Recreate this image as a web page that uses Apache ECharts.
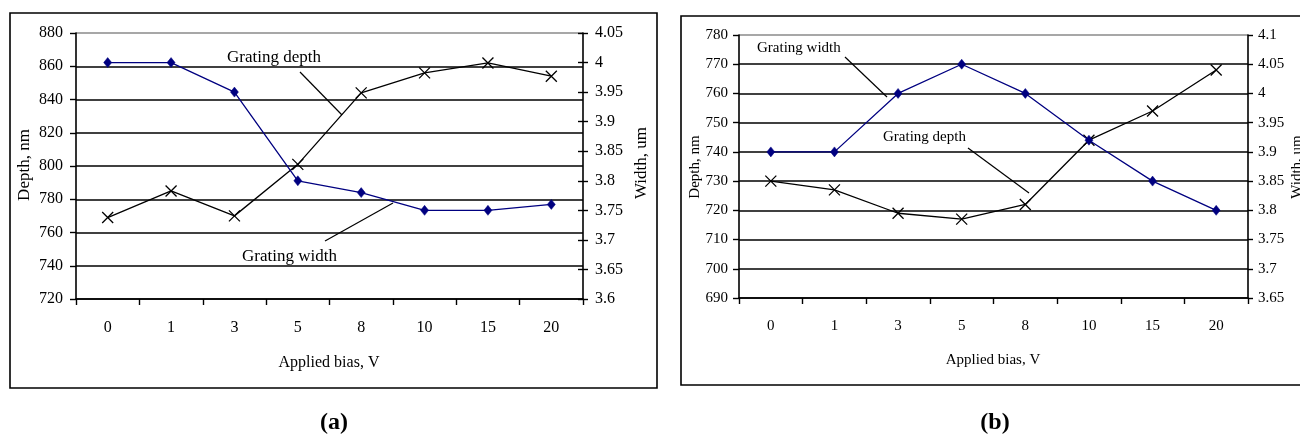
<!DOCTYPE html>
<html>
<head>
<meta charset="utf-8">
<script src="https://cdn.jsdelivr.net/npm/echarts@6/dist/echarts.min.js"></script>
<style>
  html, body { margin: 0; padding: 0; background: #fff; }
  #chart { width: 1300px; height: 438px; }
</style>
</head>
<body>
<div id="chart"></div>
<script>
// Applied bias categories shared by both panels
const biasLabels = ['0', '1', '3', '5', '8', '10', '15', '20'];

// Panel (a)
const depthA = [769, 785, 770, 801, 844, 856, 862, 854];      // nm
const widthA = [4.0, 4.0, 3.95, 3.80, 3.78, 3.75, 3.75, 3.76]; // um
const depthAxisA = [720, 880, 20];
const widthAxisA = [3.6, 4.05, 0.05];

// Panel (b)
const depthB = [730, 727, 719, 717, 722, 744, 754, 768];      // nm
const widthB = [3.9, 3.9, 4.0, 4.05, 4.0, 3.92, 3.85, 3.8];   // um
const depthAxisB = [690, 780, 10];
const widthAxisB = [3.65, 4.1, 0.05];

const SERIF = '"Liberation Serif", "Times New Roman", serif';
const NAVY = '#000080';
const CROSS = 'path://M0,0L10,10M10,0L0,10';

const fmt2 = v => String(+v.toFixed(2));

function gridLineColors(range) {
  const n = Math.round((range[1] - range[0]) / range[2]) + 1;
  const c = [];
  for (let i = 0; i < n; i++) c.push(i === n - 1 ? '#8a8a8a' : '#000');
  return c;
}

function catAxis(gridIndex, fontSize) {
  return {
    type: 'category', gridIndex: gridIndex, data: biasLabels, boundaryGap: true,
    axisLine: { lineStyle: { color: '#000', width: 1.6 } },
    axisTick: { show: true, alignWithLabel: false, inside: false, length: 6, lineStyle: { color: '#000', width: 1.4 } },
    axisLabel: { color: '#000', fontFamily: SERIF, fontSize: fontSize, margin: 21 },
    splitLine: { show: false }
  };
}

function valAxis(gridIndex, range, position, opts) {
  return Object.assign({
    type: 'value', gridIndex: gridIndex, position: position,
    min: range[0], max: range[1], interval: range[2],
    axisLine: { show: true, lineStyle: { color: '#000', width: 1.6 } },
    axisTick: { show: true, inside: false, length: 6, lineStyle: { color: '#000', width: 1.4 } },
    axisLabel: { color: '#000', fontFamily: SERIF, fontSize: 16, margin: 12, formatter: fmt2 },
    splitLine: { show: false }
  }, opts || {});
}

function crossSeries(name, x, y, data) {
  return {
    name: name, type: 'line', xAxisIndex: x, yAxisIndex: y, data: data,
    symbol: CROSS, symbolSize: 11, showAllSymbol: true,
    lineStyle: { color: '#000', width: 1.3 },
    itemStyle: { color: 'none', borderColor: '#000', borderWidth: 1.3 },
    emphasis: { disabled: true }, z: 3
  };
}

function diamondSeries(name, x, y, data) {
  return {
    name: name, type: 'line', xAxisIndex: x, yAxisIndex: y, data: data,
    symbol: 'diamond', symbolSize: [8, 10], showAllSymbol: true,
    lineStyle: { color: NAVY, width: 1.3 },
    itemStyle: { color: NAVY, borderColor: NAVY, borderWidth: 0.5 },
    emphasis: { disabled: true }, z: 4
  };
}

function txt(text, x, y, size, align, opts) {
  return Object.assign({
    type: 'text', x: x, y: y, silent: true,
    style: { text: text, font: size + 'px ' + SERIF, fill: '#000', align: align || 'left', verticalAlign: 'middle' }
  }, opts || {});
}

function leader(x1, y1, x2, y2) {
  return { type: 'line', silent: true, shape: { x1: x1, y1: y1, x2: x2, y2: y2 }, style: { stroke: '#000', lineWidth: 1.2 } };
}

const chart = echarts.init(document.getElementById('chart'), null, { renderer: 'canvas' });

chart.setOption({
  animation: false,
  backgroundColor: '#fff',
  grid: [
    { left: 76, top: 33, width: 507, height: 266 },   // (a)
    { left: 76, top: 33, width: 507, height: 266 },   // (a) inner tick overlay for the width axis
    { left: 739, top: 35, width: 509, height: 263 }   // (b)
  ],
  xAxis: [
    catAxis(0, 16),
    Object.assign(catAxis(1, 16), { show: false }),
    catAxis(2, 15)
  ],
  yAxis: [
    valAxis(0, depthAxisA, 'left', {
      axisLabel: { color: '#000', fontFamily: SERIF, fontSize: 16, margin: 13, formatter: fmt2 },
      splitLine: { show: true, lineStyle: { color: gridLineColors(depthAxisA), width: 1.5 } }
    }),
    valAxis(0, widthAxisA, 'right', {
      axisTick: { show: true, inside: false, length: 5, lineStyle: { color: '#000', width: 1.4 } },
      axisLabel: { color: '#000', fontFamily: SERIF, fontSize: 16, margin: 12, formatter: fmt2 }
    }),
    valAxis(1, widthAxisA, 'right', {
      axisLine: { show: false },
      axisTick: { show: true, inside: true, length: 5, lineStyle: { color: '#000', width: 1.4 } },
      axisLabel: { show: false }
    }),
    valAxis(2, depthAxisB, 'left', {
      axisLabel: { color: '#000', fontFamily: SERIF, fontSize: 15, margin: 11, formatter: fmt2 },
      splitLine: { show: true, lineStyle: { color: gridLineColors(depthAxisB), width: 1.5 } }
    }),
    valAxis(2, widthAxisB, 'right', {
      axisTick: { show: true, inside: false, length: 5, lineStyle: { color: '#000', width: 1.4 } },
      axisLabel: { color: '#000', fontFamily: SERIF, fontSize: 15, margin: 10, formatter: fmt2 }
    })
  ],
  series: [
    crossSeries('Grating depth', 0, 0, depthA),
    diamondSeries('Grating width', 0, 1, widthA),
    diamondSeries('Grating width', 2, 4, widthB),
    crossSeries('Grating depth', 2, 3, depthB)
  ],
  graphic: [
    // panel frames
    { type: 'rect', silent: true, z: -1, shape: { x: 10, y: 13, width: 647, height: 375 }, style: { fill: 'none', stroke: '#000', lineWidth: 1.6 } },
    { type: 'rect', silent: true, z: -1, shape: { x: 681, y: 16, width: 640, height: 369 }, style: { fill: 'none', stroke: '#000', lineWidth: 1.6 } },

    // panel (a) annotations and axis names
    txt('Grating depth', 227, 58, 17),
    leader(300, 72, 342, 115),
    txt('Grating width', 242, 257, 17),
    leader(325, 241, 393, 203),
    txt('Applied bias, V', 329, 363, 16, 'center'),
    txt('Depth, nm', 25, 165, 17, 'center', { rotation: Math.PI / 2 }),
    txt('Width, um', 642, 163, 17, 'center', { rotation: Math.PI / 2 }),

    // panel (b) annotations and axis names
    txt('Grating width', 757, 48, 15),
    leader(845, 57, 887, 97),
    txt('Grating depth', 883, 137, 15),
    leader(968, 148, 1029, 193),
    txt('Applied bias, V', 993, 360, 15, 'center'),
    txt('Depth, nm', 695, 167, 15, 'center', { rotation: Math.PI / 2 }),
    txt('Width, um', 1297, 167, 15, 'center', { rotation: Math.PI / 2 }),

    // panel captions
    { type: 'text', x: 334, y: 423, silent: true, style: { text: '(a)', font: 'bold 24px ' + SERIF, fill: '#000', align: 'center', verticalAlign: 'middle' } },
    { type: 'text', x: 995, y: 423, silent: true, style: { text: '(b)', font: 'bold 24px ' + SERIF, fill: '#000', align: 'center', verticalAlign: 'middle' } }
  ]
});
</script>
</body>
</html>
